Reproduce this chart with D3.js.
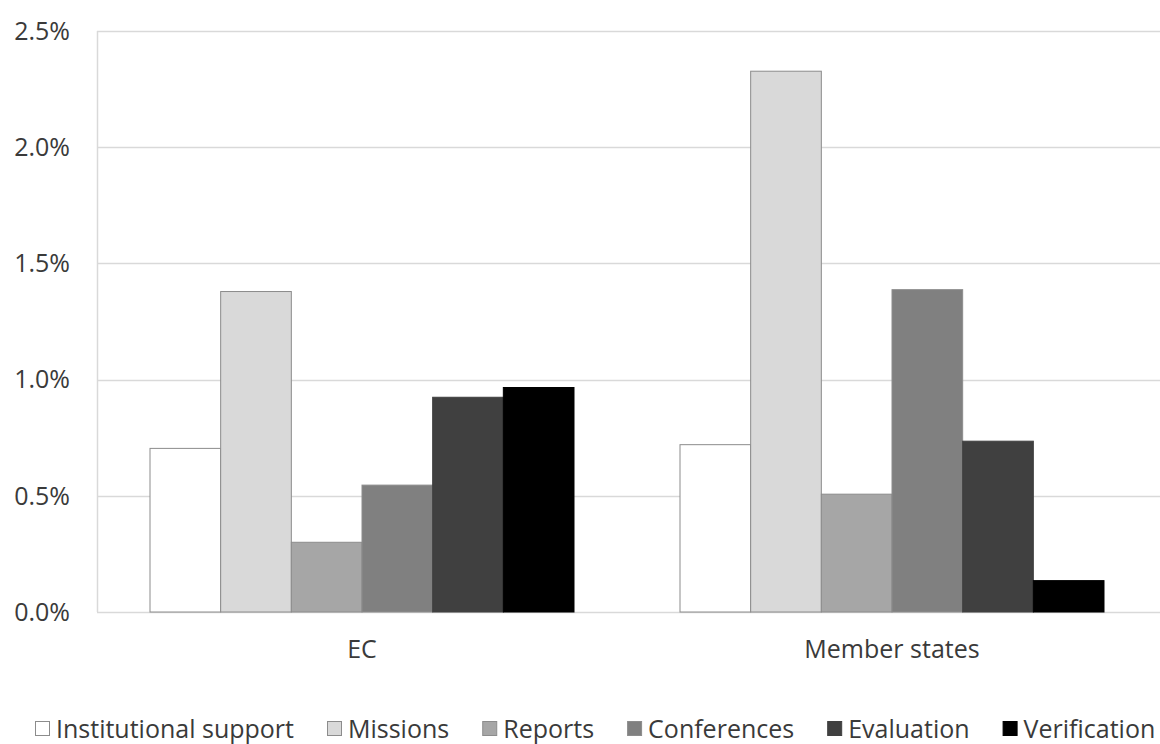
<!DOCTYPE html>
<html>
<head>
<meta charset="utf-8">
<script src="https://cdn.jsdelivr.net/npm/d3@7/dist/d3.min.js"></script>
<style>
  html, body { margin: 0; padding: 0; background: #fff; }
  svg { display: block; font-family: "Open Sans", Lato, sans-serif; }
</style>
</head>
<body>
<svg id="chart" width="1160" height="744"></svg>
<script>
// Share of spending by activity type, per funding source
const groups = ["EC", "Member states"];
const series = ["Institutional support", "Missions", "Reports", "Conferences", "Evaluation", "Verification"];
const ecValues = [0.704, 1.379, 0.300, 0.546, 0.924, 0.966];
const msValues = [0.720, 2.327, 0.507, 1.387, 0.735, 0.135];
const yTicks = [0, 0.5, 1.0, 1.5, 2.0, 2.5];
const fills = ["#ffffff", "#d9d9d9", "#a6a6a6", "#808080", "#404040", "#000000"];

const valuesByGroup = { "EC": ecValues, "Member states": msValues };

const svg = d3.select("#chart");
const plotLeft = 97, plotRight = 1157, plotTop = 31, plotBottom = 612;
const fontSize = 25;
const textColor = "#3a3a3a";

const y = d3.scaleLinear().domain([0, 2.5]).range([plotBottom, plotTop]);
const x0 = d3.scaleBand().domain(groups).range([plotLeft, plotRight]).paddingInner(0.2).paddingOuter(0.1);
const x1 = d3.scaleBand().domain(series).range([0, x0.bandwidth()]);

// gridlines
svg.append("g")
  .selectAll("line")
  .data(yTicks)
  .join("line")
  .attr("x1", plotLeft).attr("x2", 1160)
  .attr("y1", d => Math.round(y(d)) + 0.5).attr("y2", d => Math.round(y(d)) + 0.5)
  .attr("stroke", "#d9d9d9").attr("stroke-width", 1.5);

// vertical axis line
svg.append("line")
  .attr("x1", plotLeft + 0.5).attr("x2", plotLeft + 0.5)
  .attr("y1", plotTop).attr("y2", plotBottom)
  .attr("stroke", "#d9d9d9").attr("stroke-width", 1.5);

// y tick labels
svg.append("g")
  .selectAll("text")
  .data(yTicks)
  .join("text")
  .attr("x", 70).attr("y", d => y(d))
  .attr("dy", "0.35em")
  .attr("text-anchor", "end")
  .attr("font-size", fontSize)
  .attr("fill", textColor)
  .text(d => d3.format(".1f")(d) + "%");

// bars
const gGroups = svg.append("g")
  .selectAll("g")
  .data(groups)
  .join("g")
  .attr("transform", d => `translate(${x0(d)},0)`);

gGroups.selectAll("rect")
  .data(g => series.map((s, i) => ({ s, i, v: valuesByGroup[g][i] })))
  .join("rect")
  .attr("x", d => x1(d.s))
  .attr("width", x1.bandwidth())
  .attr("y", d => y(d.v))
  .attr("height", d => y(0) - y(d.v))
  .attr("fill", d => fills[d.i])
  .attr("stroke", d => d.i >= 4 ? fills[d.i] : "#8c8c8c")
  .attr("stroke-width", 1);

// category labels
svg.append("g")
  .selectAll("text")
  .data(groups)
  .join("text")
  .attr("x", d => x0(d) + x0.bandwidth() / 2)
  .attr("y", 649)
  .attr("dy", "0.35em")
  .attr("text-anchor", "middle")
  .attr("font-size", fontSize)
  .attr("fill", textColor)
  .text(d => d);

// legend
const legend = svg.append("g").attr("transform", "translate(0,729)");
let lx = 35;
series.forEach((s, i) => {
  const item = legend.append("g").attr("transform", `translate(${lx},0)`);
  item.append("rect")
    .attr("x", 0.5).attr("y", -7.5)
    .attr("width", 14).attr("height", 14)
    .attr("fill", fills[i])
    .attr("stroke", i >= 4 ? fills[i] : "#8c8c8c");
  const t = item.append("text")
    .attr("x", 21).attr("y", 0)
    .attr("dy", "0.35em")
    .attr("font-size", fontSize)
    .attr("fill", textColor)
    .text(s);
  lx += 21 + t.node().getComputedTextLength() + 33;
});
</script>
</body>
</html>
